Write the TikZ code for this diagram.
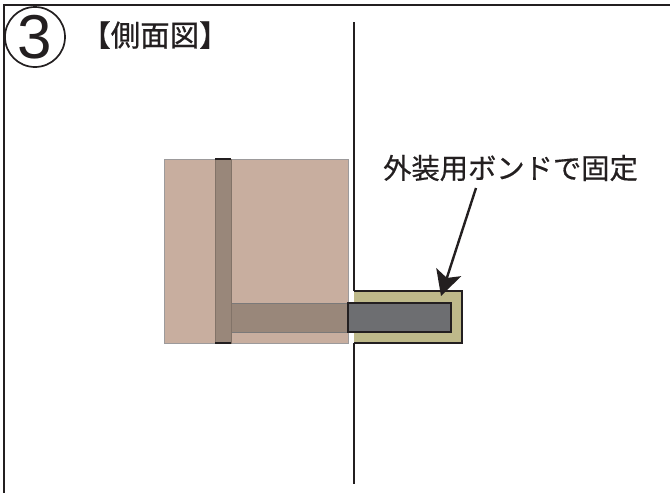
\documentclass[tikz,border=0pt]{standalone}
\usepackage{fontspec}
\newfontfamily\cjk[FakeBold=0.5]{Noto Sans CJK JP}
\newfontfamily\cjktitle[FakeBold=0.6]{Noto Sans CJK JP}
\setmainfont{Liberation Sans}
\usetikzlibrary{arrows.meta}
\definecolor{pinkbox}{HTML}{C8AE9F}
\definecolor{strip}{HTML}{99877A}
\definecolor{steel}{HTML}{6D6E71}
\definecolor{bond}{HTML}{BEB98A}
\definecolor{ink}{HTML}{231F20}
\tikzset{
  inkline/.style={draw=ink,line width=2.4pt},
  faint/.style={draw=ink!45,line width=.8pt},
  jp/.style={inner sep=0pt,text=ink},
}
\begin{document}
\begin{tikzpicture}[x=1pt,y=-1pt]
\useasboundingbox (0,0) rectangle (670,493);
\fill[white] (0,0) rectangle (670,493);
% frame
\draw[inkline,line width=2.8pt] (4,493) -- (4,5) -- (670,5);
% wall
\draw[inkline] (354,22) -- (354,291);
\draw[inkline] (354,343) -- (354,484);
% bond
\path[fill=bond] (354,291) rectangle (462,343);
\draw[inkline] (354,291) -- (462,291) -- (462,343) -- (354,343);
% block
\node[fill=pinkbox,minimum width=184pt,minimum height=184pt,inner sep=0pt,anchor=north west,faint] (block) at (164,159) {};
% horizontal strip
\path[fill=strip,draw=ink!60,line width=1pt] (231,303) rectangle (348,332);
% steel
\path[fill=steel,draw=ink,line width=1.5pt] (348,303) rectangle (451,332);
% vertical strip
\path[fill=strip,draw=strip!85!black,line width=.8pt] (215,159) rectangle (231,343);
\draw[ink,line width=1.5pt] (215,159) -- (231,159);
\draw[ink,line width=1.5pt] (215,343) -- (231,343);
% number
\node[draw=ink,line width=1.7pt,circle,minimum size=60pt,inner sep=0pt,font=\fontsize{62}{64}\selectfont,text=ink] (num) at (35,37) {3};
% title
\node[jp,font=\fontsize{29.5}{32}\selectfont\cjktitle,anchor=center] (title) at (155,35) {【側面図】};
% label
\node[jp,font=\fontsize{28.3}{30}\selectfont\cjk,anchor=center] (label) at (510.5,168) {外装用ボンドで固定};
\coordinate (tip) at (441,296);
\coordinate (start) at (476,188);
\draw[ink,line width=2.4pt,-{Stealth[length=25pt,width=26pt,inset=6pt]}] (start) -- (tip);
\end{tikzpicture}
\end{document}
